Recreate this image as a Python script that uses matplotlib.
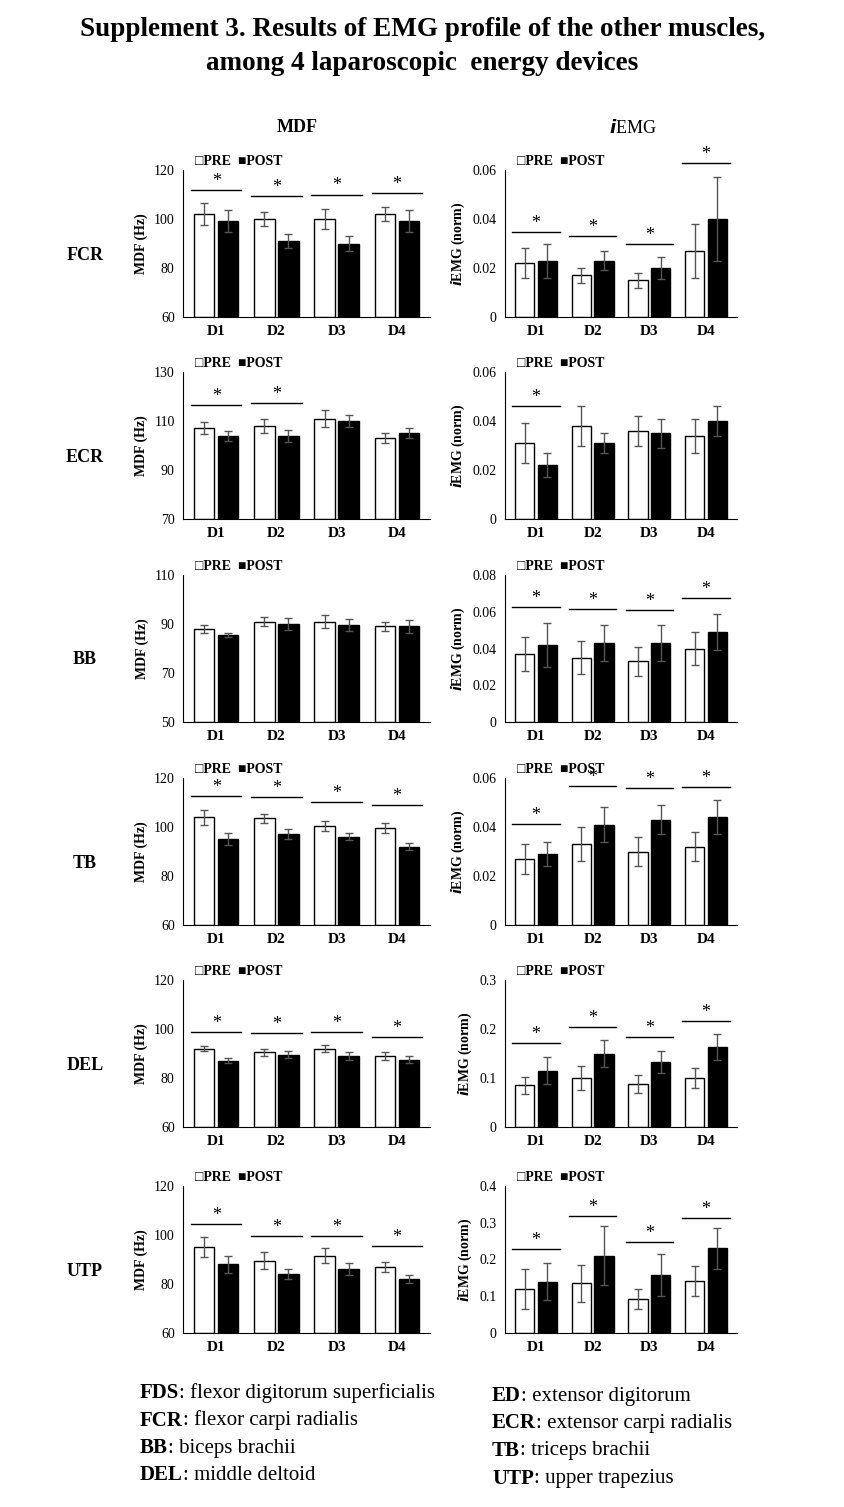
import matplotlib
matplotlib.use("Agg")
import matplotlib.pyplot as plt
import numpy as np

plt.rcParams['font.family'] = ['Liberation Serif', 'DejaVu Serif']

devices = ["D1", "D2", "D3", "D4"]
muscles = ["FCR", "ECR", "BB", "TB", "DEL", "UTP"]

mdf_lim = {"FCR": (60, 120, 20), "ECR": (70, 130, 20), "BB": (50, 110, 20),
           "TB": (60, 120, 20), "DEL": (60, 120, 20), "UTP": (60, 120, 20)}
mdf_pre = {"FCR": [102, 100, 100, 102], "ECR": [107, 108, 111, 103], "BB": [88, 91, 91, 89],
           "TB": [104, 103.5, 100.5, 99.5], "DEL": [92, 90.5, 92, 89], "UTP": [95, 89.5, 91.5, 87]}
mdf_pre_err = {"FCR": [4.5, 3, 4, 3], "ECR": [2.5, 3, 3.5, 2], "BB": [1.5, 2, 2.5, 2],
               "TB": [3, 2, 2, 2], "DEL": [1, 1.5, 1.5, 1.5], "UTP": [4, 3.5, 3, 2]}
mdf_post = {"FCR": [99, 91, 90, 99], "ECR": [104, 104, 110, 105], "BB": [85.5, 90, 89.5, 89],
            "TB": [95, 97, 96, 92], "DEL": [87, 89.5, 89, 87.5], "UTP": [88, 84, 86, 82]}
mdf_post_err = {"FCR": [4.5, 3, 3, 4.5], "ECR": [2, 2.5, 2.5, 2], "BB": [1, 2.5, 2.5, 2.5],
                "TB": [2.5, 2, 1.5, 1.5], "DEL": [1, 1.5, 1.5, 1.5], "UTP": [3.5, 2, 2.5, 1.5]}
mdf_sig = {"FCR": [111.8, 109.3, 110, 110.5], "ECR": [116.5, 117.3, None, None],
           "BB": [None, None, None, None], "TB": [112.7, 112.2, 110.2, 109],
           "DEL": [98.8, 98.4, 98.8, 96.7], "UTP": [104.5, 99.6, 99.6, 95.5]}

emg_lim = {"FCR": (0, 0.06, 0.02), "ECR": (0, 0.06, 0.02), "BB": (0, 0.08, 0.02),
           "TB": (0, 0.06, 0.02), "DEL": (0, 0.3, 0.1), "UTP": (0, 0.4, 0.1)}
emg_pre = {"FCR": [0.022, 0.017, 0.015, 0.027], "ECR": [0.031, 0.038, 0.036, 0.034],
           "BB": [0.037, 0.035, 0.033, 0.040], "TB": [0.027, 0.033, 0.030, 0.032],
           "DEL": [0.085, 0.10, 0.088, 0.10], "UTP": [0.12, 0.135, 0.093, 0.142]}
emg_pre_err = {"FCR": [0.006, 0.003, 0.003, 0.011], "ECR": [0.008, 0.008, 0.006, 0.007],
               "BB": [0.009, 0.009, 0.008, 0.009], "TB": [0.006, 0.007, 0.006, 0.006],
               "DEL": [0.018, 0.025, 0.018, 0.02], "UTP": [0.055, 0.05, 0.028, 0.04]}
emg_post = {"FCR": [0.023, 0.023, 0.020, 0.040], "ECR": [0.022, 0.031, 0.035, 0.040],
            "BB": [0.042, 0.043, 0.043, 0.049], "TB": [0.029, 0.041, 0.043, 0.044],
            "DEL": [0.115, 0.15, 0.133, 0.163], "UTP": [0.14, 0.21, 0.157, 0.23]}
emg_post_err = {"FCR": [0.007, 0.004, 0.0045, 0.017], "ECR": [0.005, 0.004, 0.006, 0.006],
                "BB": [0.012, 0.010, 0.010, 0.010], "TB": [0.005, 0.007, 0.006, 0.007],
                "DEL": [0.027, 0.028, 0.022, 0.027], "UTP": [0.05, 0.08, 0.057, 0.055]}
emg_sig = {"FCR": [0.0345, 0.033, 0.0296, 0.063], "ECR": [0.046, None, None, None],
           "BB": [0.0626, 0.0615, 0.061, 0.0675], "TB": [0.0412, 0.0567, 0.0559, 0.0563],
           "DEL": [0.171, 0.205, 0.183, 0.216], "UTP": [0.229, 0.318, 0.248, 0.312]}

W, H = 845, 1507
fig = plt.figure(figsize=(W / 100, H / 100), dpi=100)
fig.text(0.5, 1 - 30 / H, "Supplement 3. Results of EMG profile of the other muscles,",
         ha="center", va="center", fontsize=19.5, fontweight="bold")
fig.text(0.5, 1 - 63 / H, "among 4 laparoscopic  energy devices",
         ha="center", va="center", fontsize=19.5, fontweight="bold")
fig.text(297 / W, 1 - 128 / H, "MDF", ha="center", va="center", fontsize=13, fontweight="bold")
fig.text(633 / W, 1 - 128 / H, r"$\bfit{i}$EMG", ha="center", va="center", fontsize=13)

tops = [170, 372, 575, 778, 980, 1186]
ah = 147
x = np.arange(4)
bw = 0.34


def draw(ax, pre, pe, post, poe, sig, lim, ylabel, fmt):
    lo, hi, st = lim
    ekw = dict(ecolor="#555555", elinewidth=1, capsize=3, capthick=1)
    ax.bar(x - 0.2, np.array(pre) - lo, bw, bottom=lo, color="white", edgecolor="black",
           linewidth=1, yerr=pe, error_kw=ekw)
    ax.bar(x + 0.2, np.array(post) - lo, bw, bottom=lo, color="black", edgecolor="black",
           linewidth=1, yerr=poe, error_kw=ekw)
    for i, s in enumerate(sig):
        if s is None:
            continue
        ax.plot([i - 0.42, i + 0.42], [s, s], color="black", lw=1, clip_on=False)
        ax.text(i, s, "*", ha="center", va="bottom", fontsize=13)
    ax.set_ylim(lo, hi)
    ax.set_xlim(-0.55, 3.55)
    ax.set_yticks(np.arange(lo, hi + st / 2, st))
    ax.set_yticklabels([fmt(v) for v in np.arange(lo, hi + st / 2, st)], fontsize=10)
    ax.set_xticks(x)
    ax.set_xticklabels(devices, fontsize=11, fontweight="bold")
    ax.tick_params(length=0, pad=6)
    for sp in ["top", "right"]:
        ax.spines[sp].set_visible(False)
    ax.set_ylabel(ylabel, fontsize=10, fontweight="bold")
    ax.text(0.05, 1.06, "□PRE  ■POST", transform=ax.transAxes, fontsize=10,
            fontweight="bold", va="center")


def fmt_int(v):
    return f"{int(round(v))}"


def fmt_emg(v):
    if abs(v) < 1e-12:
        return "0"
    return f"{v:.2f}"


for r, m in enumerate(muscles):
    t = tops[r]
    ax1 = fig.add_axes([183 / W, 1 - (t + ah) / H, 247 / W, ah / H])
    draw(ax1, mdf_pre[m], mdf_pre_err[m], mdf_post[m], mdf_post_err[m], mdf_sig[m],
         mdf_lim[m], "MDF (Hz)", fmt_int)
    ax2 = fig.add_axes([505 / W, 1 - (t + ah) / H, 232 / W, ah / H])
    lim = emg_lim[m]
    f = (lambda v: "0" if v == 0 else f"{v:.1f}") if lim[2] >= 0.1 else fmt_emg
    draw(ax2, emg_pre[m], emg_pre_err[m], emg_post[m], emg_post_err[m], emg_sig[m],
         lim, r"$\bfit{i}$EMG (norm)", f)
    fig.text(85 / W, 1 - (t + 85) / H, m, ha="center", va="center", fontsize=13,
             fontweight="bold")

left_notes = [("FDS", ": flexor digitorum superficialis"), ("FCR", ": flexor carpi radialis"),
              ("BB", ": biceps brachii"), ("DEL", ": middle deltoid")]
right_notes = [("ED", ": extensor digitorum"), ("ECR", ": extensor carpi radialis"),
               ("TB", ": triceps brachii"), ("UTP", ": upper trapezius")]
for notes, x0, y0 in [(left_notes, 140, 1393), (right_notes, 492, 1396)]:
    for i, (a, b) in enumerate(notes):
        y = 1 - (y0 + i * 27.5) / H
        t1 = fig.text(x0 / W, y, a, fontsize=15, fontweight="bold", va="center")
        fig.canvas.draw()
        bb = t1.get_window_extent()
        fig.text(bb.x1 / W, y, b, fontsize=15, va="center")

fig.savefig("out.png", dpi=100, facecolor="white")
